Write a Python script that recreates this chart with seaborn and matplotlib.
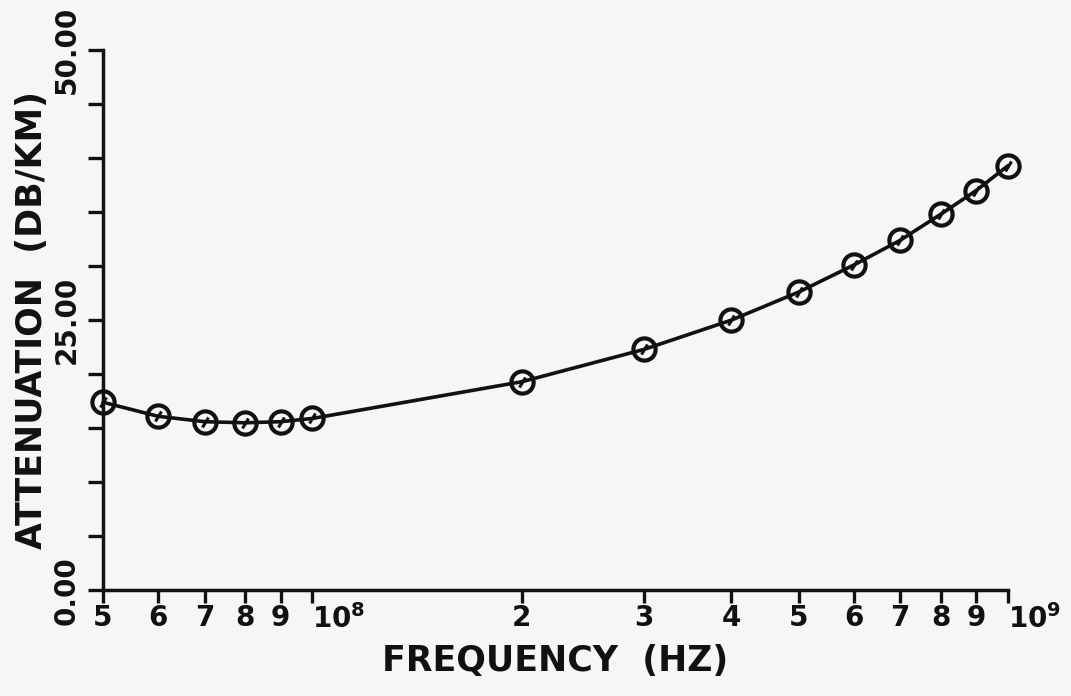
import numpy as np
import matplotlib
matplotlib.use("Agg")
import matplotlib.pyplot as plt
from matplotlib.markers import MarkerStyle
from matplotlib.transforms import Affine2D
from matplotlib.ticker import FixedLocator, FixedFormatter, NullFormatter
import seaborn as sns

# Attenuation versus frequency
freq_hz = [5e7, 6e7, 7e7, 8e7, 9e7, 1e8, 2e8, 3e8, 4e8, 5e8, 6e8, 7e8, 8e8, 9e8, 1e9]
atten_db_km = [17.4, 16.1, 15.6, 15.5, 15.6, 15.9, 19.3, 22.3, 25.0, 27.6,
               30.1, 32.4, 34.8, 37.0, 39.3]

x_tick_values = [5e7, 6e7, 7e7, 8e7, 9e7, 1e8, 2e8, 3e8, 4e8, 5e8, 6e8, 7e8, 8e8, 9e8, 1e9]
x_tick_labels = ["5", "6", "7", "8", "9", "10$^8$", "2", "3", "4", "5", "6", "7", "8", "9", "10$^9$"]
y_major_values = [0, 25, 50]
y_major_labels = ["0.00", "25.00", "50.00"]
y_minor_values = [5, 10, 15, 20, 30, 35, 40, 45]

sns.set_style("ticks")
plt.rcParams["font.family"] = ["DejaVu Sans"]
plt.rcParams["font.weight"] = "bold"
plt.rcParams["mathtext.default"] = "bf"

paper = "#f6f6f4"
ink = "#111111"

fig = plt.figure(figsize=(10.71, 6.96), dpi=100, facecolor=paper)
ax = fig.add_axes([0.0962, 0.152, 0.845, 0.776])
ax.set_facecolor(paper)

sns.lineplot(x=freq_hz, y=atten_db_km, ax=ax, color=ink, linewidth=2.6,
             marker="o", markersize=16, markerfacecolor="none",
             markeredgecolor=ink, markeredgewidth=3.0, zorder=3, clip_on=False)
# inner stroke of each plot symbol
slash = MarkerStyle("|", transform=Affine2D().rotate_deg(-35))
ax.plot(freq_hz, atten_db_km, linestyle="none", marker=slash, markersize=8,
        markeredgecolor=ink, markeredgewidth=2.2, zorder=4, clip_on=False)

ax.set_xscale("log")
ax.set_xlim(5e7, 1e9)
ax.set_ylim(0, 50)

ax.xaxis.set_major_locator(FixedLocator(x_tick_values))
ax.xaxis.set_major_formatter(FixedFormatter(x_tick_labels))
ax.xaxis.set_minor_locator(FixedLocator([]))
ax.xaxis.set_minor_formatter(NullFormatter())

ax.yaxis.set_major_locator(FixedLocator(y_major_values))
ax.yaxis.set_major_formatter(FixedFormatter(y_major_labels))
ax.yaxis.set_minor_locator(FixedLocator(y_minor_values))

for side in ("top", "right"):
    ax.spines[side].set_visible(False)
for side in ("left", "bottom"):
    ax.spines[side].set_linewidth(2.5)
    ax.spines[side].set_color(ink)

ax.tick_params(axis="x", which="major", direction="out", length=9, width=2.4,
               color=ink, labelsize=20, labelcolor=ink, pad=1)
ax.tick_params(axis="y", which="both", direction="out", length=11, width=2.4,
               color=ink, labelsize=20, labelcolor=ink, pad=5)

for lab, txt in zip(ax.get_xticklabels(), x_tick_labels):
    if txt.startswith("10"):
        lab.set_ha("left")
for lab in ax.get_yticklabels():
    lab.set_rotation(90)
    lab.set_va("center")

ax.set_xlabel("FREQUENCY  (HZ)", fontsize=25, fontweight="bold", color=ink, labelpad=7)
ax.set_ylabel("ATTENUATION  (DB/KM)", fontsize=25, fontweight="bold", color=ink, labelpad=3)

fig.savefig("out.png", dpi=100, facecolor=paper)
